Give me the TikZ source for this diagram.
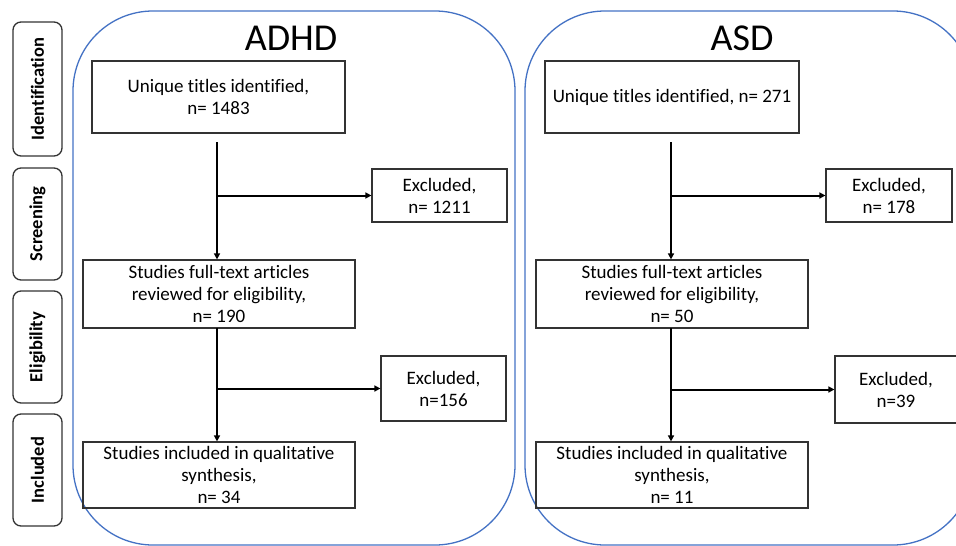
\documentclass[tikz,border=0pt]{standalone}
\usepackage{fontspec}
\setmainfont{Carlito}[Ligatures=NoCommon]
\usetikzlibrary{arrows.meta}
\definecolor{frameblue}{HTML}{4472C4}
\definecolor{boxgray}{HTML}{333333}
\begin{document}
\begin{tikzpicture}[x=1pt,y=-1pt,
  bigframe/.style={draw=frameblue, line width=1.3pt, rounded corners=80pt, inner sep=0pt},
  stagebox/.style={draw=boxgray, line width=1.3pt, rounded corners=8pt, rotate=90, inner sep=0pt,
    font=\fontsize{18.5}{20}\selectfont\bfseries},
  flowbox/.style={draw=boxgray, line width=1.2pt, inner sep=0pt, align=center,
    font=\fontsize{19}{22}\selectfont},
  titletext/.style={font=\fontsize{38}{40}\selectfont, inner sep=0pt},
  link/.style={draw=black, line width=2pt},
  arr/.style={link, -{Triangle[length=6pt,width=6pt]}}
]
\useasboundingbox (0,0) rectangle (956,546);
\clip (0,0) rectangle (956,546);

% stage labels
\node[stagebox, minimum width=134pt, minimum height=49pt] (st1) at (37.5,89) {Identification};
\node[stagebox, minimum width=112pt, minimum height=49pt] (st2) at (37.5,224) {Screening};
\node[stagebox, minimum width=112pt, minimum height=49pt] (st3) at (37.5,347) {Eligibility};
\node[stagebox, minimum width=112pt, minimum height=49pt] (st4) at (37.5,470) {Included};

% big frames
\node[bigframe, minimum width=442pt, minimum height=534pt] (fadhd) at (294,278) {};
\node[bigframe, minimum width=448pt, minimum height=534pt] (fasd) at (749,278) {};

% titles
\node[titletext] (tadhd) at (291,38) {ADHD};
\node[titletext] (tasd) at (742,38) {ASD};

% ADHD boxes
\node[flowbox, minimum width=253pt, minimum height=72pt] (a1) at (218.5,97) {Unique titles identified,\\ n= 1483};
\node[flowbox, minimum width=135pt, minimum height=53pt] (ae1) at (439.5,195.5) {Excluded,\\ n= 1211};
\node[flowbox, minimum width=272pt, minimum height=68pt] (a2) at (219,294) {Studies full-text articles\\ reviewed for eligibility,\\ n= 190};
\node[flowbox, minimum width=125pt, minimum height=65pt] (ae2) at (443.5,388.5) {Excluded,\\ n=156};
\node[flowbox, minimum width=272pt, minimum height=66pt] (a3) at (219,475) {Studies included in qualitative\\ synthesis,\\ n= 34};

% ASD boxes
\node[flowbox, minimum width=254pt, minimum height=72pt] (s1) at (672,97) {Unique titles identified, n= 271};
\node[flowbox, minimum width=126pt, minimum height=53pt] (se1) at (889,195.5) {Excluded,\\ n= 178};
\node[flowbox, minimum width=272pt, minimum height=68pt] (s2) at (672,294) {Studies full-text articles\\ reviewed for eligibility,\\ n= 50};
\node[flowbox, minimum width=122pt, minimum height=67pt] (se2) at (896,389.5) {Excluded,\\ n=39};
\node[flowbox, minimum width=272pt, minimum height=66pt] (s3) at (672,475) {Studies included in qualitative\\ synthesis,\\ n= 11};

% ADHD connectors
\coordinate (ad0) at (217,142);
\coordinate (ab1) at (217,195.5);
\coordinate (ad2) at (217,328);
\coordinate (ab2) at (217,388.5);
\draw[arr] (ad0) -- (ad0 |- a2.north);
\draw[arr] (ab1) -- (ae1.west);
\draw[arr] (ad2) -- (ad2 |- a3.north);
\draw[arr] (ab2) -- (ae2.west);

% ASD connectors
\coordinate (sd0) at (671,142);
\coordinate (sb1) at (671,195.5);
\coordinate (sd2) at (671,328);
\coordinate (sb2) at (671,389.5);
\draw[arr] (sd0) -- (sd0 |- s2.north);
\draw[arr] (sb1) -- (se1.west);
\draw[arr] (sd2) -- (sd2 |- s3.north);
\draw[arr] (sb2) -- (se2.west);
\end{tikzpicture}
\end{document}
